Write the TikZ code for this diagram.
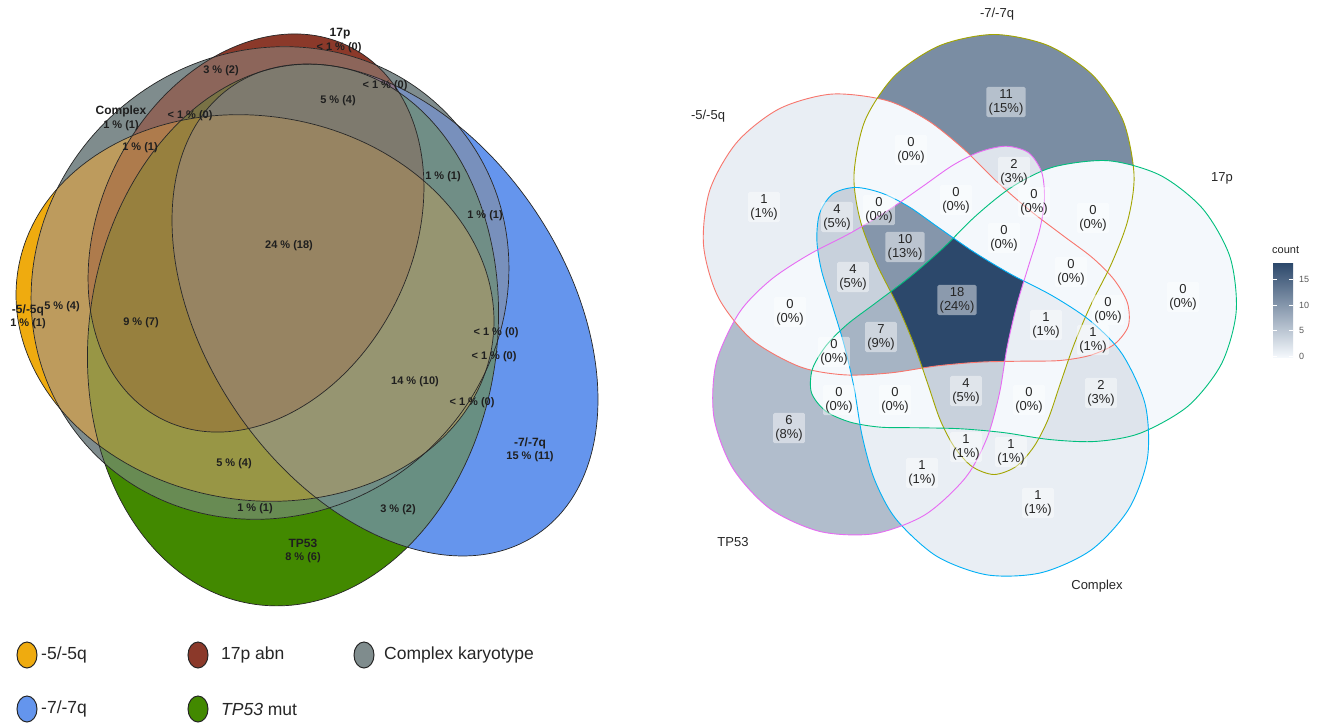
\documentclass[tikz,border=0pt]{standalone}
\usepackage{fontspec}
\setmainfont{Liberation Sans}
\usetikzlibrary{shapes.geometric}

% left panel colours
\definecolor{cOr}{RGB}{239,171,15}
\definecolor{cRe}{RGB}{139,57,42}
\definecolor{cGr}{RGB}{127,140,141}
\definecolor{cBl}{RGB}{100,149,237}
\definecolor{cGn}{RGB}{66,137,0}
% right panel colours
\definecolor{vlow}{RGB}{244,248,252}
\definecolor{vhigh}{RGB}{44,72,107}
\definecolor{sRed}{HTML}{F8766D}
\definecolor{sOli}{HTML}{A3A500}
\definecolor{sGrn}{HTML}{00BF7D}
\definecolor{sBlu}{HTML}{00B0F6}
\definecolor{sPnk}{HTML}{E76BF3}

% ---------- left ellipses ----------
\expandafter\def\csname Lell0\endcsname{(255,308) ellipse (240 and 192)}
\expandafter\def\csname Lell1\endcsname{(256,233) ellipse (208.5 and 156)}
\expandafter\def\csname Lell2\endcsname{(270,283) ellipse (245 and 230)}
\expandafter\def\csname Lell3\endcsname{(385,310) ellipse (271 and 180)}
\expandafter\def\csname Lell4\endcsname{(293,335) ellipse (204 and 272)}

\newcommand\Lclip[2]{\expandafter\let\expandafter\thisell\csname Lell#2\endcsname
  \ifnum#1=1 \clip[L#2] \thisell;\else\clip[L#2] \thisell (-2000,-2000) rectangle (2000,2000);\fi}

% colour mixing in CIELab
\newcommand\addlab[3]{\pgfmathtruncatemacro\cnt{\cnt+1}%
  \pgfmathsetmacro\sL{\sL+#1}\pgfmathsetmacro\sA{\sA+#2}\pgfmathsetmacro\sB{\sB+#3}}
\newcommand\gam[2]{\pgfmathsetmacro\tmpc{max(#2,0.0002)}%
  \pgfmathsetmacro\tmpd{1.055*exp(ln(\tmpc)/2.4)-0.055}%
  \pgfmathtruncatemacro#1{min(255,max(0,round(255*\tmpd)))}}
\newcommand\labmix{%
  \pgfmathsetmacro\mL{\sL/\cnt}\pgfmathsetmacro\mA{\sA/\cnt}\pgfmathsetmacro\mB{\sB/\cnt}%
  \pgfmathsetmacro\fy{(\mL+16)/116}%
  \pgfmathsetmacro\fx{\fy+\mA/500}%
  \pgfmathsetmacro\fz{\fy-\mB/200}%
  \pgfmathsetmacro\XX{0.9505*\fx*\fx*\fx}%
  \pgfmathsetmacro\YY{\fy*\fy*\fy}%
  \pgfmathsetmacro\ZZ{1.089*\fz*\fz*\fz}%
  \pgfmathsetmacro\linR{3.2406*\XX-1.5372*\YY-0.4986*\ZZ}%
  \pgfmathsetmacro\linG{-0.9689*\XX+1.8758*\YY+0.0415*\ZZ}%
  \pgfmathsetmacro\linB{0.0557*\XX-0.2040*\YY+1.0570*\ZZ}%
  \gam\Ri\linR \gam\Gi\linG \gam\Bi\linB
  \definecolor{mixc}{RGB}{\Ri,\Gi,\Bi}}

% ---------- right shapes ----------
\newcommand\Rpath{plot coordinates {(0,-140) (54,-129) (99,-99) (129,-54) (140,0) (134,45) (118,88) (97,130) (80,170) (66,210) (54,245) (40,272) (22,292) (0,300) (-22,292) (-40,272) (-54,245) (-66,210) (-80,170) (-97,130) (-118,88) (-134,45) (-140,0) (-129,-54) (-99,-99) (-54,-129)}}

\newcommand\Rclip[2]{\ifnum#1=1 \clip[rs#2, smooth cycle] \Rpath;\else\clip[rs#2, smooth cycle] \Rpath (-2000,-2000) rectangle (2000,2000);\fi}
\newcommand\Rreg[6]{\begin{scope}[even odd rule]\Rclip{#1}{0}\Rclip{#2}{1}\Rclip{#3}{2}\Rclip{#4}{3}\Rclip{#5}{4}%
  \fill[vhigh!#6!vlow] (600,0) rectangle (1321,725);\end{scope}}

\tikzset{
  L0/.style={rotate around={-8.9:(255,308)}},
  L1/.style={rotate around={63.3:(256,233)}},
  L2/.style={rotate around={40:(270,283)}},
  L3/.style={rotate around={-55.8:(385,310)}},
  L4/.style={rotate around={-8:(293,335)}},
  rs0/.style={shift={(842.9,233.5)},rotate=72},
  rs1/.style={shift={(994.0,174.5)}},
  rs2/.style={shift={(1096.8,300.1)},rotate=-72},
  rs3/.style={shift={(1009.1,436.6)},rotate=-144},
  rs4/.style={shift={(852.2,395.4)},rotate=144},
  lnum/.style={font=\fontsize{11}{12}\selectfont\bfseries, inner sep=0pt, text=black!88},
  lname/.style={font=\fontsize{12}{13}\selectfont\bfseries, inner sep=0pt, text=black!88},
  rlab/.style={fill=white, fill opacity=0.45, text opacity=1, rounded corners=1.5pt,
    inner sep=2.2pt, align=center, font=\fontsize{13}{14}\selectfont, text=black!85},
  rname/.style={font=\fontsize{13}{14}\selectfont, inner sep=0pt, text=black!85},
  lgglyph/.style={draw=black!85, line width=1pt, ellipse, minimum width=20pt, minimum height=26pt, inner sep=0pt},
  lgtext/.style={anchor=west, font=\fontsize{17.5}{20}\selectfont, inner sep=0pt, text=black!85},
  cbtick/.style={font=\fontsize{9}{10}\selectfont, anchor=west, inner sep=0pt, text=black!65},
}

\begin{document}
\begin{tikzpicture}[x=1pt,y=-1pt]
\useasboundingbox[fill=white] (0,0) rectangle (1321,725);

% ================= LEFT PANEL =================
\foreach \n in {1,...,31}{
  \pgfmathtruncatemacro\ba{mod(\n,2)}
  \pgfmathtruncatemacro\bb{mod(floor(\n/2),2)}
  \pgfmathtruncatemacro\bc{mod(floor(\n/4),2)}
  \pgfmathtruncatemacro\bd{mod(floor(\n/8),2)}
  \pgfmathtruncatemacro\be{mod(floor(\n/16),2)}
  \def\cnt{0}\def\sL{0}\def\sA{0}\def\sB{0}
  \ifnum\ba=1 \addlab{74.5}{14.1}{76.1}\fi
  \ifnum\bb=1 \addlab{35.1}{34.0}{26.5}\fi
  \ifnum\bc=1 \addlab{57.2}{-4.4}{-2.2}\fi
  \ifnum\bd=1 \addlab{61.9}{9.35}{-49.3}\fi
  \ifnum\be=1 \addlab{50.7}{-42.7}{54.1}\fi
  \labmix
  \begin{scope}[even odd rule]
    \Lclip{\ba}{0}\Lclip{\bb}{1}\Lclip{\bc}{2}\Lclip{\bd}{3}\Lclip{\be}{4}
    \fill[mixc] (0,0) rectangle (660,640);
  \end{scope}
}
\foreach \i in {0,...,4}{
  \expandafter\let\expandafter\thisell\csname Lell\i\endcsname
  \draw[L\i, line width=0.7pt, black!85] \thisell;
}

% left labels
\node[lname] (n17p) at (340,34) {17p};
\node[lnum] (v17p) at (339,48) {< 1 \% (0)};
\node[lnum] (a1) at (221,71) {3 \% (2)};
\node[lnum] (a2) at (385,86) {< 1 \% (0)};
\node[lnum] (a3) at (338,101) {5 \% (4)};
\node[lname] (nCx) at (121,111) {Complex};
\node[lnum] (vCx) at (121,126) {1 \% (1)};
\node[lnum] (a4) at (190,116) {< 1 \% (0)};
\node[lnum] (a5) at (140,148) {1 \% (1)};
\node[lnum] (a6) at (443,177) {1 \% (1)};
\node[lnum] (a7) at (485,216) {1 \% (1)};
\node[lnum] (a8) at (289,246) {24 \% (18)};
\node[lname] (n5q) at (28,310) {-5/-5q};
\node[lnum] (v5q) at (28,324) {1 \% (1)};
\node[lnum] (a9) at (62,307) {5 \% (4)};
\node[lnum] (a10) at (141,323) {9 \% (7)};
\node[lnum] (a11) at (496,333) {< 1 \% (0)};
\node[lnum] (a12) at (494,357) {< 1 \% (0)};
\node[lnum] (a13) at (415,382) {14 \% (10)};
\node[lnum] (a14) at (472,403) {< 1 \% (0)};
\node[lname] (n7q) at (530,443) {-7/-7q};
\node[lnum] (v7q) at (530,457) {15 \% (11)};
\node[lnum] (a15) at (234,464) {5 \% (4)};
\node[lnum] (a16) at (255,509) {1 \% (1)};
\node[lnum] (a17) at (398,510) {3 \% (2)};
\node[lname] (nTP) at (303,543) {TP53};
\node[lnum] (vTP) at (303,558) {8 \% (6)};

% legend
\node[lgglyph, fill=cOr] (g1) at (27,655) {};
\node[lgtext] (t1) at (41,655) {-5/-5q};
\node[lgglyph, fill=cRe] (g2) at (198,655) {};
\node[lgtext] (t2) at (221,655) {17p abn};
\node[lgglyph, fill=cGr] (g3) at (364,655) {};
\node[lgtext] (t3) at (384,655) {Complex karyotype};
\node[lgglyph, fill=cBl] (g4) at (27,709) {};
\node[lgtext] (t4) at (41,709) {-7/-7q};
\node[lgglyph, fill=cGn] (g5) at (198,709) {};
\node[lgtext] (t5) at (221,709) {\textit{TP53} mut};

% ================= RIGHT PANEL =================
\foreach \k in {0,...,4}{ \fill[rs\k, smooth cycle, vlow] \Rpath; }
% order: red(-5q) olive(-7q) green(17p) blue(Complex) pink(TP53)
\Rreg{0}{1}{0}{0}{0}{61.1}
\Rreg{1}{0}{0}{0}{0}{5.56}
\Rreg{0}{1}{0}{0}{1}{11.1}
\Rreg{1}{0}{0}{1}{0}{22.2}
\Rreg{1}{1}{0}{1}{1}{55.6}
\Rreg{1}{0}{0}{1}{1}{22.2}
\Rreg{1}{1}{1}{1}{1}{100}
\Rreg{1}{1}{1}{1}{0}{5.56}
\Rreg{1}{0}{1}{1}{1}{38.9}
\Rreg{1}{0}{1}{1}{0}{5.56}
\Rreg{0}{1}{1}{1}{1}{22.2}
\Rreg{0}{0}{1}{1}{0}{11.1}
\Rreg{0}{0}{0}{0}{1}{33.3}
\Rreg{0}{1}{0}{1}{1}{5.56}
\Rreg{0}{1}{0}{1}{0}{5.56}
\Rreg{0}{0}{0}{1}{1}{5.56}
\Rreg{0}{0}{0}{1}{0}{5.56}

\draw[rs0, smooth cycle, sRed, line width=0.9pt] \Rpath;
\draw[rs1, smooth cycle, sOli, line width=0.9pt] \Rpath;
\draw[rs2, smooth cycle, sGrn, line width=0.9pt] \Rpath;
\draw[rs3, smooth cycle, sBlu, line width=0.9pt] \Rpath;
\draw[rs4, smooth cycle, sPnk, line width=0.9pt] \Rpath;

% region labels
\node[rlab] (r1) at (1006,102) {11\\(15\%)};
\node[rlab] (r2) at (764,207) {1\\(1\%)};
\node[rlab] (r3) at (911,150) {0\\(0\%)};
\node[rlab] (r4) at (1014,172) {2\\(3\%)};
\node[rlab] (r5) at (837,217) {4\\(5\%)};
\node[rlab] (r6) at (879,210) {0\\(0\%)};
\node[rlab] (r7) at (956,200) {0\\(0\%)};
\node[rlab] (r8) at (1034,202) {0\\(0\%)};
\node[rlab] (r9) at (1093,218) {0\\(0\%)};
\node[rlab] (r10) at (905,247) {10\\(13\%)};
\node[rlab] (r11) at (1004,238) {0\\(0\%)};
\node[rlab] (r12) at (853,277) {4\\(5\%)};
\node[rlab] (r13) at (1071,272) {0\\(0\%)};
\node[rlab] (r14) at (1183,297) {0\\(0\%)};
\node[rlab] (r15) at (790,312) {0\\(0\%)};
\node[rlab] (r16) at (957,300) {18\\(24\%)};
\node[rlab] (r17) at (1046,325) {1\\(1\%)};
\node[rlab] (r18) at (1108,310) {0\\(0\%)};
\node[rlab] (r19) at (881,337) {7\\(9\%)};
\node[rlab] (r20) at (1093,340) {1\\(1\%)};
\node[rlab] (r21) at (834,352) {0\\(0\%)};
\node[rlab] (r22) at (966,391) {4\\(5\%)};
\node[rlab] (r23) at (1101,393) {2\\(3\%)};
\node[rlab] (r24) at (839,400) {0\\(0\%)};
\node[rlab] (r25) at (895,400) {0\\(0\%)};
\node[rlab] (r26) at (1029,400) {0\\(0\%)};
\node[rlab] (r27) at (789,428) {6\\(8\%)};
\node[rlab] (r28) at (966,447) {1\\(1\%)};
\node[rlab] (r29) at (1011,452) {1\\(1\%)};
\node[rlab] (r30) at (922,473) {1\\(1\%)};
\node[rlab] (r31) at (1038,503) {1\\(1\%)};

% set names
\node[rname] (s1) at (708,116) {-5/-5q};
\node[rname] (s2) at (997,14) {-7/-7q};
\node[rname] (s3) at (1222,178) {17p};
\node[rname] (s4) at (733,542) {TP53};
\node[rname] (s5) at (1097,586) {Complex};

% colour bar
\node[font=\fontsize{11}{12}\selectfont, anchor=west, inner sep=0pt, text=black!85] (cbt) at (1272,250) {count};
\shade[top color=vhigh, bottom color=vlow] (1273,263) rectangle (1293,357);
\foreach \yy in {356,330.5,305,279.5}{
  \draw[white, line width=0.6pt] (1273,\yy) -- (1277,\yy);
  \draw[white, line width=0.6pt] (1289,\yy) -- (1293,\yy);
}
\node[cbtick] (c0) at (1299,356) {0};
\node[cbtick] (c5) at (1299,330.5) {5};
\node[cbtick] (c10) at (1299,305) {10};
\node[cbtick] (c15) at (1299,279.5) {15};
\end{tikzpicture}
\end{document}
